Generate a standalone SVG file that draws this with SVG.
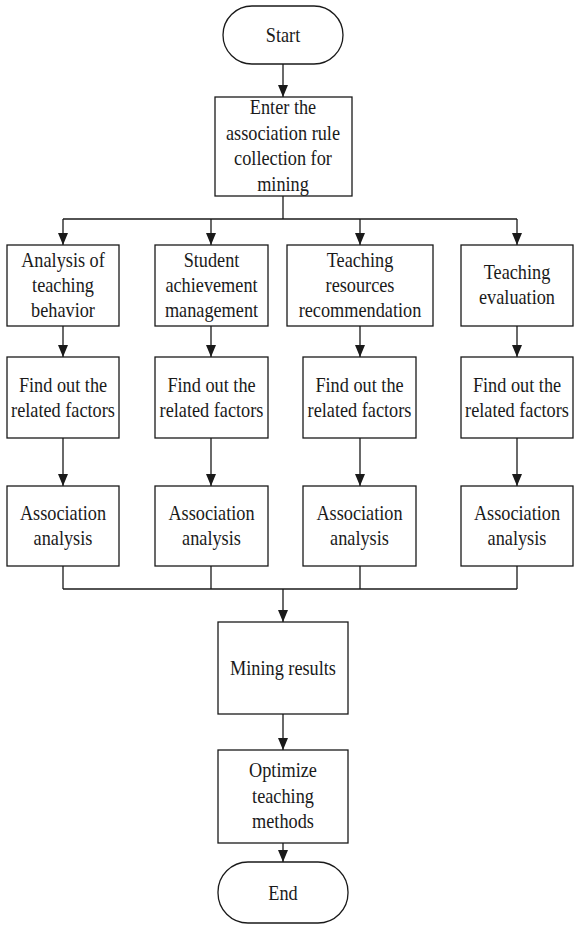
<svg xmlns="http://www.w3.org/2000/svg" width="575" height="925" viewBox="0 0 575 925">
<style>
.box{fill:#fff;stroke:#1a1a1a;stroke-width:1.3}
.t{font-family:'Liberation Serif','Times New Roman',serif;font-size:22px;fill:#1a1a1a;text-anchor:middle}
.c{fill:none;stroke:#1a1a1a;stroke-width:1.3}
.a{marker-end:url(#arr)}
</style>
<defs>
<marker id="arr" viewBox="0 0 12 10" refX="12" refY="5" markerWidth="12" markerHeight="10" markerUnits="userSpaceOnUse" orient="auto">
<path d="M0,0 L12,5 L0,10 z" fill="#1a1a1a"/>
</marker>
</defs>
<rect width="575" height="925" fill="#fff"/>
<g id="connectors">
<line class="c a" x1="283" y1="64" x2="283" y2="97"/>
<line class="c" x1="283" y1="196" x2="283" y2="219"/>
<line class="c" x1="63" y1="219" x2="517" y2="219"/>
<line class="c a" x1="63" y1="219" x2="63" y2="245"/>
<line class="c a" x1="211" y1="219" x2="211" y2="245"/>
<line class="c a" x1="360" y1="219" x2="360" y2="245"/>
<line class="c a" x1="517" y1="219" x2="517" y2="245"/>
<line class="c a" x1="63" y1="326" x2="63" y2="357"/>
<line class="c a" x1="211" y1="326" x2="211" y2="357"/>
<line class="c a" x1="360" y1="326" x2="360" y2="357"/>
<line class="c a" x1="517" y1="326" x2="517" y2="357"/>
<line class="c a" x1="63" y1="438" x2="63" y2="486"/>
<line class="c a" x1="211" y1="438" x2="211" y2="486"/>
<line class="c a" x1="360" y1="438" x2="360" y2="486"/>
<line class="c a" x1="517" y1="438" x2="517" y2="486"/>
<line class="c" x1="63" y1="566" x2="63" y2="589"/>
<line class="c" x1="211" y1="566" x2="211" y2="589"/>
<line class="c" x1="360" y1="566" x2="360" y2="589"/>
<line class="c" x1="517" y1="566" x2="517" y2="589"/>
<line class="c" x1="63" y1="589" x2="517" y2="589"/>
<line class="c a" x1="283" y1="589" x2="283" y2="622"/>
<line class="c a" x1="283" y1="714" x2="283" y2="750"/>
<line class="c a" x1="283" y1="843" x2="283" y2="862"/>
</g>
<g id="start">
<rect class="box" x="223" y="6" width="120" height="58" rx="29" ry="29"/>
<text class="t" transform="translate(283,42) scale(0.83,1)">Start</text>
</g>
<g id="enter">
<rect class="box" x="215" y="97" width="137" height="99"/>
<text class="t" transform="translate(283,114) scale(0.83,1)"><tspan x="0" y="0">Enter the</tspan><tspan x="0" y="25.6">association rule</tspan><tspan x="0" y="51.2">collection for</tspan><tspan x="0" y="76.8">mining</tspan></text>
</g>
<g id="analysis-behavior">
<rect class="box" x="7" y="245" width="112" height="81"/>
<text class="t" transform="translate(63,266.5) scale(0.83,1)"><tspan x="0" y="0">Analysis of</tspan><tspan x="0" y="25.5">teaching</tspan><tspan x="0" y="51">behavior</tspan></text>
</g>
<g id="student-achievement">
<rect class="box" x="155" y="245" width="113" height="81"/>
<text class="t" transform="translate(211.5,266.5) scale(0.83,1)"><tspan x="0" y="0">Student</tspan><tspan x="0" y="25.5">achievement</tspan><tspan x="0" y="51">management</tspan></text>
</g>
<g id="resources-recommendation">
<rect class="box" x="287" y="245" width="146" height="81"/>
<text class="t" transform="translate(360,266.5) scale(0.83,1)"><tspan x="0" y="0">Teaching</tspan><tspan x="0" y="25.5">resources</tspan><tspan x="0" y="51">recommendation</tspan></text>
</g>
<g id="teaching-evaluation">
<rect class="box" x="461" y="245" width="112" height="81"/>
<text class="t" transform="translate(517,279) scale(0.83,1)"><tspan x="0" y="0">Teaching</tspan><tspan x="0" y="25.5">evaluation</tspan></text>
</g>
<g id="factors-1">
<rect class="box" x="7" y="357" width="112" height="81"/>
<text class="t" transform="translate(63,391.5) scale(0.83,1)"><tspan x="0" y="0">Find out the</tspan><tspan x="0" y="25.5">related factors</tspan></text>
</g>
<g id="factors-2">
<rect class="box" x="155" y="357" width="113" height="81"/>
<text class="t" transform="translate(211.5,391.5) scale(0.83,1)"><tspan x="0" y="0">Find out the</tspan><tspan x="0" y="25.5">related factors</tspan></text>
</g>
<g id="factors-3">
<rect class="box" x="303" y="357" width="113" height="81"/>
<text class="t" transform="translate(359.5,391.5) scale(0.83,1)"><tspan x="0" y="0">Find out the</tspan><tspan x="0" y="25.5">related factors</tspan></text>
</g>
<g id="factors-4">
<rect class="box" x="461" y="357" width="112" height="81"/>
<text class="t" transform="translate(517,391.5) scale(0.83,1)"><tspan x="0" y="0">Find out the</tspan><tspan x="0" y="25.5">related factors</tspan></text>
</g>
<g id="assoc-1">
<rect class="box" x="7" y="486" width="112" height="80"/>
<text class="t" transform="translate(63,520) scale(0.83,1)"><tspan x="0" y="0">Association</tspan><tspan x="0" y="25.5">analysis</tspan></text>
</g>
<g id="assoc-2">
<rect class="box" x="155" y="486" width="113" height="80"/>
<text class="t" transform="translate(211.5,520) scale(0.83,1)"><tspan x="0" y="0">Association</tspan><tspan x="0" y="25.5">analysis</tspan></text>
</g>
<g id="assoc-3">
<rect class="box" x="303" y="486" width="113" height="80"/>
<text class="t" transform="translate(359.5,520) scale(0.83,1)"><tspan x="0" y="0">Association</tspan><tspan x="0" y="25.5">analysis</tspan></text>
</g>
<g id="assoc-4">
<rect class="box" x="461" y="486" width="112" height="80"/>
<text class="t" transform="translate(517,520) scale(0.83,1)"><tspan x="0" y="0">Association</tspan><tspan x="0" y="25.5">analysis</tspan></text>
</g>
<g id="mining-results">
<rect class="box" x="218" y="622" width="130" height="92"/>
<text class="t" transform="translate(283,675) scale(0.83,1)">Mining results</text>
</g>
<g id="optimize">
<rect class="box" x="218" y="750" width="130" height="93"/>
<text class="t" transform="translate(283,777) scale(0.83,1)"><tspan x="0" y="0">Optimize</tspan><tspan x="0" y="25.6">teaching</tspan><tspan x="0" y="51.2">methods</tspan></text>
</g>
<g id="end">
<rect class="box" x="218" y="862" width="130" height="61" rx="30" ry="30"/>
<text class="t" transform="translate(283,900) scale(0.83,1)">End</text>
</g>
</svg>
